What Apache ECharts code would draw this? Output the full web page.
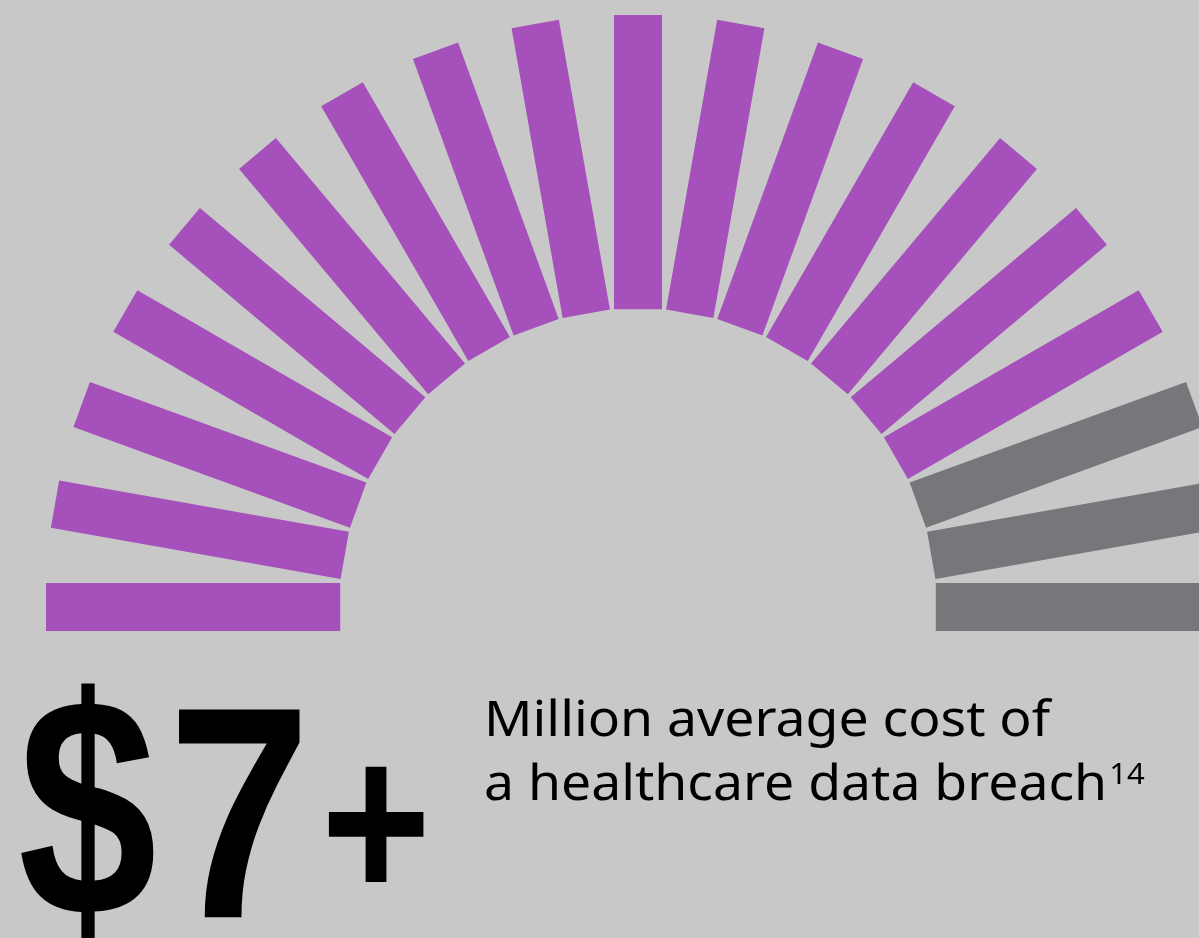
<!DOCTYPE html>
<html>
<head>
<meta charset="utf-8">
<script src="https://cdn.jsdelivr.net/npm/echarts@6/dist/echarts.min.js"></script>
<style>
html,body{margin:0;padding:0;background:#c8c8c8;}
#chart{width:1199px;height:938px;}
</style>
</head>
<body>
<div id="chart"></div>
<script>
// Bars of the semicircle, left to right (angle in degrees from the left horizontal)
const barAngles = [0, 10, 20, 30, 40, 50, 60, 70, 80, 90, 100, 110, 120, 130, 140, 150, 160, 170, 180];
const barStart  = [50.3, 50.3, 50.3, 50.3, 50.3, 50.3, 50.3, 50.3, 50.3, 50.3, 50.3, 50.3, 50.3, 50.3, 50.3, 50.3, 50.3, 50.3, 50.3];
const barEnd    = [100, 100, 100, 100, 100, 100, 100, 100, 100, 100, 100, 100, 100, 100, 100, 100, 100, 100, 100];
const barGroup  = ['on','on','on','on','on','on','on','on','on','on','on','on','on','on','on','on','off','off','off'];

const bigNumberParts = ['$', '7', '+'];
const captionLine1 = 'Million average cost of';
const captionLine2 = 'a healthcare data breach';
const footnote = '14';

const colors = { on: '#a550bb', off: '#76777b' };
const BAR_PX = 48;

const data = barAngles.map((a, i) => ({
  value: [a, barStart[i], barEnd[i]],
  itemStyle: { color: colors[barGroup[i]] }
}));

const bigFont = '"Liberation Sans", Arial, sans-serif';
const capFont = '"Noto Sans", sans-serif';

const chart = echarts.init(document.getElementById('chart'), null, { renderer: 'canvas' });
chart.setOption({
  backgroundColor: '#c8c8c8',
  animation: false,
  polar: { center: [638, 607], radius: 592 },
  angleAxis: { type: 'value', min: 0, max: 360, startAngle: 180, clockwise: true, show: false },
  radiusAxis: { type: 'value', min: 0, max: 100, show: false },
  series: [{
    type: 'custom',
    coordinateSystem: 'polar',
    data: data,
    renderItem: function (params, api) {
      const ang = api.value(0);
      const p0 = api.coord([api.value(1), ang]);
      const p1 = api.coord([api.value(2), ang]);
      const dx = p1[0] - p0[0], dy = p1[1] - p0[1];
      const len = Math.sqrt(dx * dx + dy * dy);
      const nx = -dy / len * BAR_PX / 2, ny = dx / len * BAR_PX / 2;
      return {
        type: 'polygon',
        shape: { points: [
          [p0[0] + nx, p0[1] + ny], [p1[0] + nx, p1[1] + ny],
          [p1[0] - nx, p1[1] - ny], [p0[0] - nx, p0[1] - ny]
        ] },
        style: api.style()
      };
    }
  }],
  graphic: [
    {
      type: 'text', x: 18, y: 829, scaleX: 0.80,
      style: { text: bigNumberParts[0], font: 'bold 312px ' + bigFont, fill: '#000', verticalAlign: 'middle' }
    },
    {
      type: 'text', x: 168, y: 834, scaleX: 0.85,
      style: { text: bigNumberParts[1], font: 'bold 302px ' + bigFont, fill: '#000', verticalAlign: 'middle' }
    },
    {
      type: 'text', x: 321, y: 837, scaleX: 0.83,
      style: { text: bigNumberParts[2], font: 'bold 227px ' + bigFont, fill: '#000', verticalAlign: 'middle' }
    },
    {
      type: 'text', x: 484, y: 722, scaleX: 1.07,
      style: {
        text: captionLine1,
        font: '50px ' + capFont,
        fill: '#000', verticalAlign: 'middle'
      }
    },
    {
      type: 'text', x: 484, y: 786, scaleX: 1.07,
      style: {
        text: '{m|' + captionLine2 + '}{s|' + footnote + '}',
        verticalAlign: 'middle',
        rich: {
          m: { font: '50px ' + capFont, fill: '#000', verticalAlign: 'bottom' },
          s: { font: '29px ' + capFont, fill: '#000', verticalAlign: 'top', padding: [0, 0, 20, 2] }
        }
      }
    }
  ]
});
</script>
</body>
</html>
